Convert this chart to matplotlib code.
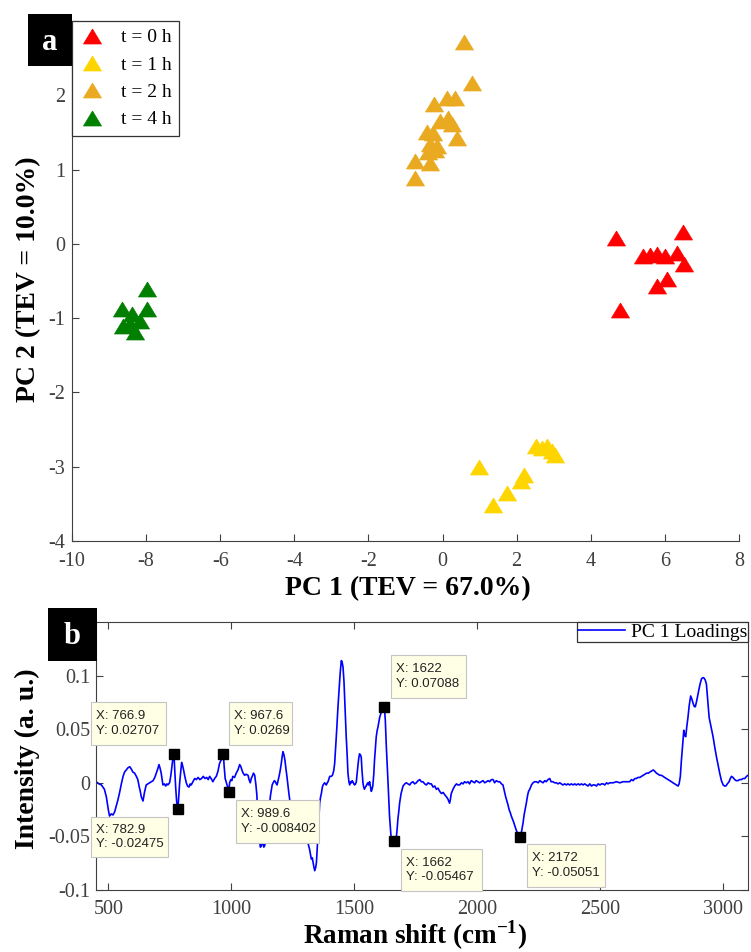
import matplotlib as mpl

mpl.use("agg")

import matplotlib.pyplot as plt
from matplotlib.patches import Rectangle

W, H = 751, 952
DPI = 100

# PCA scores (PC1, PC2) per sampling time
t0_pc1 = [4.68, 5.41, 5.60, 5.79, 6.00, 6.33, 6.49, 6.52, 6.06, 5.79, 4.79]
t0_pc2 = [0.08, -0.16, -0.15, -0.14, -0.16, -0.12, 0.16, -0.27, -0.47, -0.57, -0.89]
t1_pc1 = [0.99, 1.37, 1.74, 2.12, 2.20, 2.52, 2.69, 2.82, 2.95, 3.04]
t1_pc2 = [-3.01, -3.51, -3.35, -3.19, -3.11, -2.72, -2.75, -2.72, -2.79, -2.84]
t2_pc1 = [0.58, 0.80, 0.12, 0.34, -0.23, -0.07, 0.15, 0.26, -0.42, -0.26,
          0.39, -0.34, -0.15, -0.39, -0.20, -0.74, -0.34, -0.74]
t2_pc2 = [2.72, 2.16, 1.97, 1.97, 1.88, 1.66, 1.69, 1.62, 1.50, 1.49,
          1.42, 1.35, 1.32, 1.23, 1.26, 1.12, 1.09, 0.89]
t4_pc1 = [-7.98, -8.65, -7.98, -8.38, -8.16, -8.62, -8.30, -8.43]
t4_pc2 = [-0.61, -0.88, -0.88, -0.95, -1.04, -1.11, -1.18, -1.08]

group_labels = ["t = 0 h", "t = 1 h", "t = 2 h", "t = 4 h"]
group_colors = ["#ff0000", "#ffd500", "#e9aa22", "#007f00"]

# PC 1 loadings spectrum
raman_shift = [
    451, 462, 472, 484, 492, 500, 505, 512, 519, 526, 532, 539, 546, 553, 560,
    566, 573, 580, 587, 593, 600, 607, 614, 620, 625, 630, 634, 641, 647, 654,
    661, 668, 675, 682, 689, 695, 701, 706, 710, 715, 719, 722, 728, 733, 738,
    742, 749, 753, 757, 761, 766.9, 770, 774, 778, 782.9, 787, 790, 794, 798,
    802, 806, 811, 817, 822, 828, 833, 837, 844, 851, 858, 865, 872, 879, 886,
    893, 900, 906, 912, 918, 925, 932, 939, 946, 952, 958, 963, 967.6, 971,
    975, 980, 985, 989.6, 993, 998, 1002, 1006, 1013, 1020, 1027, 1034, 1039,
    1043, 1048, 1054, 1060, 1068, 1072, 1077, 1081, 1085, 1090, 1095, 1100,
    1104, 1108, 1114, 1118, 1122, 1126, 1129, 1132, 1135, 1139, 1142, 1146,
    1149, 1152, 1155, 1159, 1163, 1166, 1170, 1175, 1179, 1183, 1186, 1190,
    1194, 1199, 1203, 1207, 1210, 1214, 1218, 1222, 1226, 1230, 1234, 1241,
    1250, 1260, 1270, 1280, 1290, 1300, 1310, 1318, 1325, 1329, 1332, 1336,
    1339, 1343, 1346, 1349, 1352, 1356, 1359, 1363, 1366, 1370, 1373, 1379,
    1383, 1386, 1390, 1393, 1397, 1400, 1406, 1411, 1416, 1420, 1424, 1429,
    1433, 1438, 1442, 1447, 1450, 1454, 1458, 1461, 1464, 1467, 1471, 1474,
    1478, 1481, 1485, 1488, 1491, 1494, 1498, 1501, 1505, 1508, 1511, 1515,
    1518, 1521, 1525, 1528, 1531, 1535, 1538, 1541, 1545, 1548, 1552, 1555,
    1558, 1562, 1566, 1569, 1572, 1575, 1579, 1582, 1586, 1589, 1593, 1596,
    1600, 1603, 1607, 1610, 1615, 1619, 1622, 1626, 1630, 1634, 1637, 1640,
    1643, 1647, 1650, 1654, 1657, 1662, 1666, 1671, 1674, 1677, 1681, 1684,
    1690, 1698, 1705, 1711, 1718, 1725, 1731, 1738, 1745, 1752, 1759, 1766,
    1772, 1779, 1786, 1793, 1800, 1807, 1813, 1820, 1827, 1833, 1840, 1847,
    1854, 1861, 1867, 1874, 1880, 1887, 1890, 1894, 1901, 1908, 1915, 1921,
    1928, 1935, 1942, 1948, 1955, 1962, 1968, 1975, 1982, 1989, 1995, 2002,
    2009, 2016, 2023, 2030, 2037, 2044, 2050, 2057, 2064, 2070, 2077, 2084,
    2091, 2098, 2104, 2108, 2112, 2115, 2120, 2125, 2129, 2134, 2138, 2143,
    2148, 2152, 2158, 2163, 2168, 2172, 2176, 2180, 2183, 2186, 2190, 2195,
    2199, 2204, 2208, 2213, 2220, 2226, 2233, 2240, 2247, 2254, 2260, 2267,
    2274, 2280, 2287, 2294, 2300, 2307, 2314, 2321, 2328, 2335, 2341, 2348,
    2355, 2362, 2368, 2375, 2382, 2389, 2396, 2402, 2410, 2416, 2423, 2430,
    2436, 2443, 2450, 2457, 2464, 2470, 2477, 2484, 2491, 2498, 2505, 2511,
    2518, 2525, 2531, 2538, 2552, 2565, 2579, 2592, 2606, 2619, 2626, 2633,
    2640, 2646, 2653, 2660, 2667, 2674, 2681, 2688, 2695, 2701, 2708, 2715,
    2720, 2728, 2735, 2741, 2748, 2755, 2761, 2768, 2775, 2782, 2789, 2795,
    2802, 2809, 2816, 2820, 2825, 2829, 2833, 2836, 2839, 2843, 2847, 2851,
    2856, 2861, 2867, 2872, 2877, 2882, 2886, 2891, 2897, 2904, 2911, 2916,
    2920, 2926, 2931, 2936, 2942, 2950, 2958, 2965, 2972, 2979, 2985, 2992,
    2999, 3005, 3010, 3016, 3023, 3028, 3033, 3039, 3046, 3052, 3059, 3066,
    3073, 3080, 3087, 3094, 3100,
]
pc1_loading = [
    0.001, -0.001, -0.002, -0.006, -0.013, -0.025, -0.031, -0.029, -0.030,
    -0.027, -0.022, -0.016, -0.009, -0.001, 0.006, 0.010, 0.012, 0.014, 0.015,
    0.013, 0.010, 0.009, 0.006, 0.003, -0.003, -0.008, -0.013, -0.017, -0.009,
    -0.002, -0.001, 0.000, 0.001, 0.002, 0.005, 0.009, 0.013, 0.017, 0.014,
    0.009, 0.003, -0.002, -0.001, -0.003, -0.001, -0.002, 0.000, 0.005, 0.012,
    0.020, 0.02707, 0.012, -0.005, -0.018, -0.02475, -0.010, 0.000, 0.010,
    0.019, 0.016, 0.012, 0.006, 0.000, -0.003, -0.004, -0.001, -0.002, 0.001,
    0.004, 0.003, 0.005, 0.003, 0.004, 0.006, 0.004, 0.005, 0.003, 0.006,
    0.004, 0.001, 0.004, 0.006, 0.011, 0.018, 0.021, 0.023, 0.0269, 0.015,
    0.004, 0.000, -0.004, -0.008402, 0.000, 0.003, 0.002, 0.006, 0.005, 0.009,
    0.012, 0.017, 0.015, 0.012, 0.009, 0.007, 0.008, 0.007, 0.003, 0.000,
    0.004, 0.006, 0.009, 0.007, -0.002, -0.012, -0.037, -0.053, -0.060, -0.059,
    -0.055, -0.056, -0.060, -0.059, -0.055, -0.056, -0.051, -0.044, -0.032,
    -0.022, -0.012, -0.006, -0.002, 0.000, 0.002, 0.001, -0.001, -0.002, 0.002,
    0.006, 0.012, 0.018, 0.025, 0.029, 0.026, 0.021, 0.013, 0.006, -0.002,
    -0.010, -0.022, -0.030, -0.034, -0.036, -0.038, -0.041, -0.046, -0.055,
    -0.062, -0.071, -0.070, -0.074, -0.079, -0.082, -0.079, -0.074, -0.062,
    -0.050, -0.033, -0.019, -0.013, -0.010, -0.004, -0.002, 0.000, -0.001,
    -0.002, 0.000, 0.001, 0.004, 0.006, 0.006, 0.007, 0.011, 0.018, 0.033,
    0.052, 0.069, 0.086, 0.101, 0.114, 0.113, 0.108, 0.094, 0.077, 0.060,
    0.043, 0.025, 0.009, 0.001, -0.002, 0.001, 0.000, 0.002, 0.001, -0.001,
    -0.002, -0.001, 0.001, 0.008, 0.017, 0.023, 0.027, 0.026, 0.024, 0.012,
    0.000, -0.004, -0.006, -0.004, -0.003, -0.001, 0.000, -0.002, 0.001,
    -0.004, -0.008, -0.006, -0.003, 0.008, 0.021, 0.033, 0.043, 0.049, 0.052,
    0.057, 0.061, 0.064, 0.066, 0.070, 0.069, 0.07088, 0.058, 0.034, 0.015,
    0.000, -0.016, -0.031, -0.043, -0.053, -0.057, -0.059, -0.05467, -0.055,
    -0.050, -0.043, -0.034, -0.026, -0.019, -0.010, -0.003, -0.001, 0.000,
    -0.001, -0.002, 0.000, 0.001, -0.001, 0.000, 0.002, 0.003, 0.001, 0.001,
    -0.001, -0.002, 0.000, -0.001, -0.001, -0.004, -0.003, -0.006, -0.005,
    -0.008, -0.010, -0.009, -0.011, -0.013, -0.015, -0.019, -0.016, -0.010,
    -0.006, -0.003, -0.001, -0.002, -0.002, 0.000, -0.001, 0.001, 0.000,
    0.001, -0.001, 0.002, 0.001, 0.000, 0.002, 0.001, 0.000, 0.001, 0.002,
    0.000, 0.001, 0.002, 0.001, 0.003, 0.003, 0.000, 0.002, 0.001, 0.001,
    -0.001, -0.002, -0.006, -0.010, -0.013, -0.017, -0.021, -0.025, -0.028,
    -0.031, -0.034, -0.037, -0.040, -0.044, -0.047, -0.049, -0.05051, -0.049,
    -0.045, -0.041, -0.037, -0.030, -0.024, -0.019, -0.012, -0.008, -0.006,
    -0.002, 0.000, 0.001, 0.001, 0.000, 0.002, 0.001, 0.000, 0.002, 0.001,
    0.003, 0.004, 0.001, 0.001, 0.000, 0.000, -0.001, 0.000, -0.001, -0.002,
    -0.001, -0.002, -0.001, -0.002, -0.001, -0.002, -0.001, -0.002, -0.001,
    -0.002, -0.001, -0.002, -0.001, -0.002, -0.003, -0.001, -0.003, -0.002,
    -0.002, -0.003, -0.001, -0.002, -0.001, -0.001, -0.002, 0.000, -0.001,
    0.000, 0.000, 0.001, 0.000, 0.001, 0.001, 0.001, 0.003, 0.002, 0.004,
    0.004, 0.005, 0.005, 0.006, 0.007, 0.008, 0.009, 0.009, 0.010, 0.011,
    0.012, 0.011, 0.009, 0.008, 0.007, 0.007, 0.006, 0.005, 0.004, 0.003,
    0.002, 0.001, 0.000, -0.001, -0.002, -0.003, -0.001, 0.006, 0.020, 0.031,
    0.040, 0.049, 0.044, 0.043, 0.052, 0.061, 0.072, 0.081, 0.078, 0.074,
    0.071, 0.071, 0.076, 0.083, 0.091, 0.097, 0.098, 0.098, 0.096, 0.092,
    0.078, 0.061, 0.052, 0.043, 0.033, 0.024, 0.016, 0.009, 0.002, -0.002,
    -0.003, -0.003, -0.001, 0.001, 0.004, 0.006, 0.005, 0.003, 0.002, 0.002,
    0.003, 0.003, 0.004, 0.004, 0.006, 0.007,
]

# data cursors on the loadings
tip_x = [766.9, 782.9, 967.6, 989.6, 1622, 1662, 2172]
tip_y = [0.02707, -0.02475, 0.0269, -0.008402, 0.07088, -0.05467, -0.05051]
# tip boxes: left, top, width, height in figure pixels
tip_boxes = [
    (91, 702, 75, 43),
    (91, 817, 77, 40),
    (229, 702, 63, 43),
    (236, 800, 83, 43),
    (391, 655, 75, 43),
    (401, 849, 81, 42),
    (527, 844, 78, 43),
]

SERIF = ["Liberation Serif", "DejaVu Serif"]
SANS = ["Liberation Sans", "DejaVu Sans"]
AX_COLOR = "#404040"

plt.rcParams["font.family"] = SERIF
plt.rcParams["axes.unicode_minus"] = False
plt.rcParams["mathtext.fontset"] = "custom"
plt.rcParams["mathtext.rm"] = "Liberation Serif"
plt.rcParams["mathtext.bf"] = "Liberation Serif:bold"


def fx(px):
    return px / W


def fy(py):
    return 1 - py / H


def style_axes(ax):
    for sp in ax.spines.values():
        sp.set_color(AX_COLOR)
        sp.set_linewidth(0.8)
    ax.tick_params(direction="in", length=5, width=0.8, color=AX_COLOR,
                   labelcolor=AX_COLOR, labelsize=14.5)


def panel_tag(letter, x0, y0, x1, y1):
    fig.add_artist(Rectangle((fx(x0), fy(y1)), fx(x1) - fx(x0), fy(y0) - fy(y1),
                             transform=fig.transFigure, facecolor="black",
                             edgecolor="none", zorder=5))
    fig.text(fx((x0 + x1) / 2), fy((y0 + y1) / 2 + 2), letter, color="white",
             fontsize=22, fontweight="bold", ha="center", va="center", zorder=6)


fig = plt.figure(figsize=(W / DPI, H / DPI), dpi=DPI)

# ---- a: score plot ----
ax1 = fig.add_axes([fx(72), fy(541), fx(739) - fx(72), fy(21) - fy(541)])
style_axes(ax1)
ax1.spines["top"].set_visible(False)
ax1.spines["right"].set_visible(False)
ax1.tick_params(axis="x", pad=8)
ax1.tick_params(axis="y", pad=5)

tri = [(0, 0.83), (-1, -0.83), (1, -0.83), (0, 0.83)]
groups = [(t0_pc1, t0_pc2), (t1_pc1, t1_pc2), (t2_pc1, t2_pc2), (t4_pc1, t4_pc2)]
for (gx, gy), lab, col in zip(groups, group_labels, group_colors):
    ax1.plot(gx, gy, linestyle="none", marker=tri, markersize=13,
             markerfacecolor=col, markeredgecolor=col, markeredgewidth=0.5,
             label=lab)

ax1.set_xlim(-10, 8)
ax1.set_ylim(-4, 3)
ax1.set_xticks(range(-10, 9, 2))
ax1.set_yticks(range(-4, 4))
ax1.set_xlabel("PC 1 (TEV = 67.0%)", fontsize=20, fontweight="bold")
ax1.set_ylabel("PC 2 (TEV = 10.0%)", fontsize=20, fontweight="bold")
ax1.xaxis.set_label_coords(0.503, -0.068)
ax1.yaxis.set_label_coords(-0.046, 0.504)

leg1 = ax1.legend(loc="upper left", bbox_to_anchor=(0, 1), borderaxespad=0,
                  fontsize=14, frameon=True, fancybox=False, framealpha=1,
                  edgecolor="#333333", handlelength=1.3, handletextpad=0.8,
                  labelspacing=0.5, borderpad=0.4)
leg1.get_frame().set_linewidth(0.9)

# ---- b: PC 1 loadings ----
ax2 = fig.add_axes([fx(96), fy(890), fx(748) - fx(96), fy(622) - fy(890)])
style_axes(ax2)
ax2.tick_params(top=True, right=True)
ax2.tick_params(axis="x", pad=7)
ax2.tick_params(axis="y", pad=4)

ax2.plot(raman_shift, pc1_loading, color="#0000ff", linewidth=1.2,
         label="PC 1 Loadings")
ax2.plot(tip_x, tip_y, linestyle="none", marker="s", markersize=7,
         color="black", zorder=4)

ax2.set_xlim(450, 3100)
ax2.set_ylim(-0.1, 0.15)
ax2.set_xticks([500, 1000, 1500, 2000, 2500, 3000])
ax2.set_yticks([-0.1, -0.05, 0, 0.05, 0.1])
ax2.set_yticklabels(["-0.1", "-0.05", "0", "0.05", "0.1"])
ax2.set_xlabel(r"Raman shift (cm$^{\mathbf{-1}}$)", fontsize=19.5,
               fontweight="bold")
ax2.set_ylabel("Intensity (a. u.)", fontsize=20, fontweight="bold")
ax2.xaxis.set_label_coords(0.49, -0.105)
ax2.yaxis.set_label_coords(-0.086, 0.49)

leg2 = ax2.legend(loc="upper right", bbox_to_anchor=(1, 1), borderaxespad=0,
                  fontsize=14, frameon=True, fancybox=False, framealpha=1,
                  edgecolor="#333333", handlelength=2.4, handletextpad=0.3,
                  borderpad=0.05)
leg2.get_frame().set_linewidth(0.9)

# data cursor boxes
for x, y, (bx, by, bw, bh) in zip(tip_x, tip_y, tip_boxes):
    fig.add_artist(Rectangle((fx(bx), fy(by + bh)), bw / W, bh / H,
                             transform=fig.transFigure, facecolor="#ffffe6",
                             edgecolor="#c4c4c4", linewidth=0.8, zorder=3))
    fig.text(fx(bx + 5), fy(by + bh / 2), f"X: {x:.4g}\nY: {y:.4g}",
             family=SANS, fontsize=9.5, color="#222222", linespacing=1.25,
             ha="left", va="center", zorder=4)

panel_tag("a", 28, 14, 72, 66)
panel_tag("b", 48, 608, 97, 661)

fig.savefig("out.png", dpi=DPI)
